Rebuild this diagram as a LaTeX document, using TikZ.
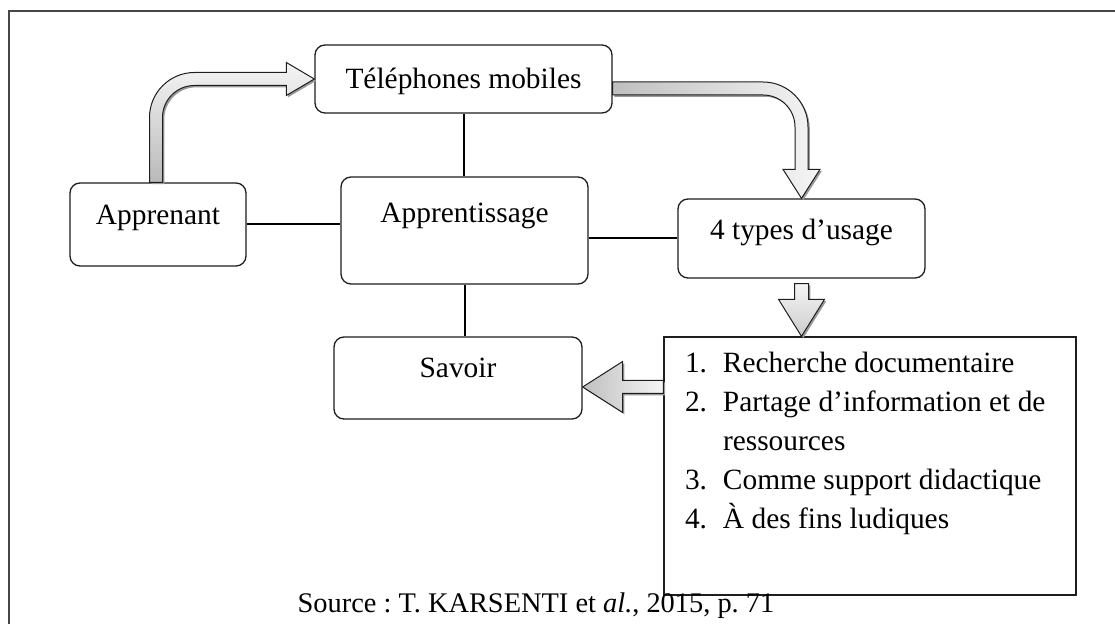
\documentclass[tikz,border=0pt]{standalone}
\usepackage{fontspec}
\setmainfont{Liberation Serif}
\usetikzlibrary{calc,shadows}
\definecolor{figline}{RGB}{30,30,30}
\definecolor{figframe}{RGB}{70,70,70}
\newcommand{\itm}[2]{\makebox[19pt][l]{#1}#2}
\frenchspacing
\tikzset{
  bx/.style  ={draw=figline, line width=0.65pt, rounded corners=5pt, fill=white,
               font=\fontsize{14.7pt}{19.5pt}\selectfont, inner sep=0pt,
               text height=10pt, text depth=#1},
  bx/.default=0.2pt,
  lst/.style ={draw=figline, line width=0.65pt, fill=white, align=flush left,
               font=\fontsize{14.7pt}{19.5pt}\selectfont,
               inner xsep=10.5pt, inner ysep=0pt, text width=185pt,
               text height=10pt, text depth=103pt},
  lnk/.style ={draw=black, line width=1pt},
  blk/.style ={draw=figline, line width=0.5pt, line join=miter,
               drop shadow={shadow xshift=0.9pt, shadow yshift=-0.9pt, fill=gray!80, opacity=1}},
  frm/.style ={draw=figframe, line width=0.9pt},
  src/.style ={font=\fontsize{14.2pt}{17pt}\selectfont, inner sep=0pt},
}

\begin{document}
\begin{tikzpicture}[x=0.5pt,y=-0.5pt]
  \useasboundingbox (0,0) rectangle (1115,624);
  \draw[frm] (9,624) -- (9,11) -- (1115,11);
  % boxes
  \node[bx, minimum width=148.5pt, minimum height=34pt] (tel) at (463.5,79) {Téléphones mobiles};
  \node[bx=9.7pt, minimum width=88pt, minimum height=41.5pt] (apprenant) at (158,224.5) {Apprenant};
  \node[bx=17.7pt, minimum width=123.5pt, minimum height=53.5pt] (appr) at (464.5,230.5) {Apprentissage};
  \node[bx=10.2pt, minimum width=124pt, minimum height=41pt] (savoir) at (458,378) {Savoir};
  \node[bx=8.7pt, minimum width=123.5pt, minimum height=39.5pt] (types) at (801.5,238.5) {4 types d’usage};
  \node[lst, minimum width=206pt, minimum height=129pt] (list) at (870,466)
    {\itm{1.}{Recherche documentaire}\\
     \itm{2.}{Partage d’information et de}\\
     \itm{}{ressources}\\
     \itm{3.}{Comme support didactique}\\
     \itm{4.}{À des fins ludiques}};
  \node[src, anchor=base] (source) at (536,613) {Source : T. KARSENTI et \textit{al.}, 2015, p. 71};
  % plain links
  \draw[lnk] (apprenant.east) -- (apprenant.east -| appr.west);
  \draw[lnk] (types.west) -- (types.west -| appr.east);
  \draw[lnk] (tel.south) -- (tel.south |- appr.north);
  \draw[lnk] (appr.south) -- (appr.south |- savoir.north);
  % block arrows
  \coordinate (a1s) at ($(apprenant.north)+(-2,0)$);
  \coordinate (a1t) at (tel.west);
  \coordinate (a1c) at (a1s |- a1t);
  \path[blk, top color=gray!8, bottom color=gray!55]
    ($(a1s)+(-6.5,0)$) -- ($(a1c)+(-6.5,38.5)$) arc[start angle=180, end angle=90, radius=22.5pt]
    -- ($(a1t)+(-28,-6.5)$) -- ($(a1t)+(-28,-16.5)$) -- (a1t) -- ($(a1t)+(-28,16.5)$)
    -- ($(a1t)+(-28,6.5)$) -- ($(a1c)+(38.5,6.5)$) arc[start angle=90, end angle=180, radius=16pt]
    -- ($(a1s)+(6.5,0)$) -- cycle;
  \coordinate (a2s) at ($(tel.east)+(0,9.5)$);
  \coordinate (a2t) at (types.north);
  \coordinate (a2c) at (a2t |- a2s);
  \path[blk, left color=gray!50, right color=gray!8]
    ($(a2s)+(0,-6.5)$) -- ($(a2c)+(-38.5,-6.5)$) arc[start angle=90, end angle=0, radius=22.5pt]
    -- ($(a2t)+(6.5,-29)$) -- ($(a2t)+(18.5,-29)$) -- (a2t) -- ($(a2t)+(-18.5,-29)$)
    -- ($(a2t)+(-6.5,-29)$) -- ($(a2c)+(-6.5,38.5)$) arc[start angle=0, end angle=90, radius=16pt]
    -- ($(a2s)+(0,6.5)$) -- cycle;
  \coordinate (a3s) at ($(types.south)+(0,5)$);
  \coordinate (a3t) at (types.south |- list.north);
  \path[blk, top color=gray!8, bottom color=gray!40]
    ($(a3s)+(-7,0)$) -- ($(a3t)+(-7,-37)$) -- ($(a3t)+(-23,-37)$) -- (a3t)
    -- ($(a3t)+(23,-37)$) -- ($(a3t)+(7,-37)$) -- ($(a3s)+(7,0)$) -- cycle;
  \coordinate (a4t) at ($(savoir.east)+(0,9)$);
  \coordinate (a4s) at (a4t -| list.west);
  \path[blk, left color=gray!50, right color=gray!8]
    ($(a4s)+(0,-6.5)$) -- ($(a4t)+(40,-6.5)$) -- ($(a4t)+(40,-25.5)$) -- (a4t)
    -- ($(a4t)+(40,25.5)$) -- ($(a4t)+(40,6.5)$) -- ($(a4s)+(0,6.5)$) -- cycle;
\end{tikzpicture}
\end{document}
